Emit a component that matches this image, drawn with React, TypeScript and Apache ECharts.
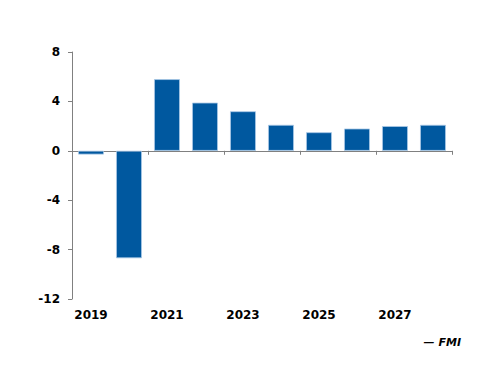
import React, { useEffect, useRef } from "react";
import * as echarts from "echarts";

const categories = ["2019", "2020", "2021", "2022", "2023", "2024", "2025", "2026", "2027", "2028"];
const values = [-0.3, -8.7, 5.8, 3.9, 3.2, 2.1, 1.5, 1.8, 2.0, 2.1];
const yTicks = { min: -12, max: 8, interval: 4 };
const sourceText = "— FMI";

export default function App() {
  const ref = useRef<HTMLDivElement>(null);
  useEffect(() => {
    if (!ref.current) return;
    const chart = echarts.init(ref.current, undefined, { renderer: "svg" });
    const font = "DejaVu Sans, Verdana, sans-serif";
    chart.setOption({
      animation: false,
      backgroundColor: "#ffffff",
      grid: { left: 64, top: 44, width: 380, height: 247 },
      xAxis: {
        type: "category",
        data: categories,
        position: "bottom",
        axisLine: { onZero: true, lineStyle: { color: "#808080", width: 1 } },
        axisTick: { show: true, interval: 1, length: 4, lineStyle: { color: "#808080" } },
        axisLabel: {
          interval: 1,
          color: "#000",
          fontFamily: font,
          fontSize: 12,
          fontWeight: "bold",
          margin: 10,
        },
      },
      yAxis: {
        type: "value",
        min: yTicks.min,
        max: yTicks.max,
        interval: yTicks.interval,
        splitLine: { show: false },
        axisLine: { show: true, lineStyle: { color: "#808080", width: 1 } },
        axisTick: { show: true, length: 4, lineStyle: { color: "#808080" } },
        axisLabel: {
          color: "#000",
          fontFamily: font,
          fontSize: 12,
          fontWeight: "bold",
          margin: 12,
        },
      },
      graphic: [
        {
          type: "text",
          right: 31,
          top: 329,
          style: {
            text: sourceText,
            fontFamily: font,
            fontSize: 11,
            fontWeight: "bold",
            fontStyle: "italic",
            fill: "#000",
          },
        },
      ],
      series: [
        {
          type: "bar",
          data: values,
          barCategoryGap: "32%",
          itemStyle: { color: "#00589f", borderColor: "#a9c8e6", borderWidth: 0.8 },
        },
      ],
    });
    return () => chart.dispose();
  }, []);
  return <div ref={ref} style={{ width: 484, height: 370 }} />;
}
